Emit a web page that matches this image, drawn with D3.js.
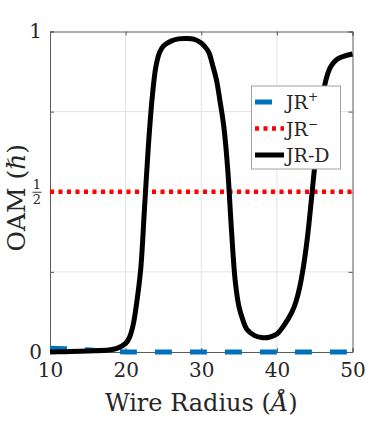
<!DOCTYPE html>
<html>
<head>
<meta charset="utf-8">
<script src="https://cdn.jsdelivr.net/npm/d3@7"></script>
<style>
  body { margin: 0; background: #fff; }
  svg text { font-family: "DejaVu Serif", "Liberation Serif", serif; fill: #262626; }
</style>
</head>
<body>
<div id="chart"></div>
<script>
// wire radius samples (Angstrom)
const radius = [10, 12, 14, 16, 18, 19, 20, 20.5, 21, 21.5, 22, 22.5, 23, 23.5, 24, 24.5, 25, 26, 27, 28, 29, 30,
  30.5, 31, 31.5, 32, 32.5, 33, 33.5, 34, 34.5, 35, 35.5, 36, 37, 38, 39, 40, 41, 42, 42.5, 43, 43.5, 44,
  44.5, 45, 45.5, 46, 46.5, 47, 47.5, 48, 49, 50];
// JR-D orbital angular momentum
const jrD = [0.0, 0.001, 0.002, 0.004, 0.007, 0.013, 0.027, 0.045, 0.085, 0.16, 0.26, 0.45, 0.64, 0.79, 0.89, 0.935, 0.955, 0.97, 0.977, 0.978, 0.976, 0.964,
  0.952, 0.935, 0.895, 0.85, 0.78, 0.7, 0.57, 0.38, 0.22, 0.14, 0.1, 0.072, 0.052, 0.045, 0.046, 0.056, 0.085, 0.125, 0.155, 0.2, 0.265, 0.35,
  0.46, 0.58, 0.7, 0.79, 0.85, 0.885, 0.903, 0.914, 0.924, 0.93];
// JR+ (decays to zero)
const jrPlusX = [10, 12, 14, 16, 18, 20, 30, 40, 50];
const jrPlus = [0.012, 0.01, 0.008, 0.005, 0.002, 0, 0, 0, 0];
// JR- constant
const jrMinusX = [10, 50];
const jrMinus = [0.5, 0.5];

const xTicks = [10, 20, 30, 40, 50];
const yTicks = [0, 0.25, 0.5, 0.75, 1];
const yLabels = { 0: '0', 1: '1' };

const legendItems = [
  { name: 'JR', sup: '+', color: '#0072BD', dash: '17,18', width: 5 },
  { name: 'JR', sup: '\u2212', color: '#FF0000', dash: '4,4.5', width: 4.5 },
  { name: 'JR-D', sup: '', color: '#000', dash: null, width: 5 }
];

const width = 390, height = 423;
const margin = { top: 31.5, right: 37.5, bottom: 71, left: 50 };
const serif = '"DejaVu Serif", "Liberation Serif", serif';

const svg = d3.select('#chart').append('svg')
  .attr('width', width)
  .attr('height', height);

const x = d3.scaleLinear().domain([10, 50]).range([margin.left, width - margin.right]);
const y = d3.scaleLinear().domain([0, 1]).range([height - margin.bottom, margin.top]);

// grid
svg.append('g').selectAll('line')
  .data(xTicks.slice(1, -1))
  .enter().append('line')
  .attr('x1', (d) => x(d)).attr('x2', (d) => x(d))
  .attr('y1', y(0)).attr('y2', y(1))
  .attr('stroke', '#e3e3e3').attr('stroke-width', 1);

svg.append('g').selectAll('line')
  .data(yTicks.slice(1, -1))
  .enter().append('line')
  .attr('x1', x(10)).attr('x2', x(50))
  .attr('y1', (d) => y(d)).attr('y2', (d) => y(d))
  .attr('stroke', '#e3e3e3').attr('stroke-width', 1);

// axes, ticks inward like matlab
const xAxis = d3.axisBottom(x).tickValues(xTicks).tickSize(-4).tickPadding(11).tickFormat(d3.format('d'));
const yAxis = d3.axisLeft(y).tickValues(yTicks).tickSize(-4).tickPadding(8)
  .tickFormat((d) => (yLabels[d] !== undefined ? yLabels[d] : ''));

svg.append('g').attr('transform', `translate(0,${y(0)})`).call(xAxis);
svg.append('g').attr('transform', `translate(${x(10)},0)`).call(yAxis);
svg.append('g').attr('transform', `translate(0,${y(1)})`)
  .call(d3.axisTop(x).tickValues(xTicks).tickSize(-4).tickFormat(''));
svg.append('g').attr('transform', `translate(${x(50)},0)`)
  .call(d3.axisRight(y).tickValues(yTicks).tickSize(-4).tickFormat(''));

svg.selectAll('.domain').attr('stroke', '#5a5a5a');
svg.selectAll('.tick line').attr('stroke', '#5a5a5a');
svg.selectAll('.tick text')
  .attr('font-family', serif)
  .style('font-family', serif)
  .style('font-size', '20px')
  .attr('fill', '#262626');

// the 1/2 label as a stacked fraction
const half = svg.append('g').attr('transform', `translate(${x(10) - 13},${y(0.5)})`);
half.append('text').attr('x', 0).attr('y', -3).attr('text-anchor', 'middle')
  .style('font-size', '13px').text('1');
half.append('line').attr('x1', -4.5).attr('x2', 4.5).attr('y1', 0.5).attr('y2', 0.5)
  .attr('stroke', '#262626').attr('stroke-width', 0.9);
half.append('text').attr('x', 0).attr('y', 12.5).attr('text-anchor', 'middle')
  .style('font-size', '13px').text('2');

// curves
const line = d3.line()
  .x((d) => x(d[0]))
  .y((d) => y(d[1]));

svg.append('path')
  .datum(jrMinusX.map((d, i) => [d, jrMinus[i]]))
  .attr('d', line)
  .attr('fill', 'none')
  .attr('stroke', '#FF0000')
  .attr('stroke-width', 4.5)
  .attr('stroke-dasharray', '4,4.5');

svg.append('path')
  .datum(jrPlusX.map((d, i) => [d, jrPlus[i]]))
  .attr('d', line.curve(d3.curveMonotoneX))
  .attr('fill', 'none')
  .attr('stroke', '#0072BD')
  .attr('stroke-width', 5)
  .attr('stroke-dasharray', '17,18');

svg.append('path')
  .datum(radius.map((d, i) => [d, jrD[i]]))
  .attr('d', line.curve(d3.curveCatmullRom.alpha(0.5)))
  .attr('fill', 'none')
  .attr('stroke', '#000')
  .attr('stroke-width', 5)
  .attr('stroke-linejoin', 'round');

// axis labels
svg.append('text')
  .attr('x', (x(10) + x(50)) / 2)
  .attr('y', 411)
  .attr('text-anchor', 'middle')
  .style('font-size', '24px')
  .html('Wire Radius (<tspan font-style="italic">Å</tspan>)');

svg.append('text')
  .attr('transform', `translate(25,${y(0.5) + 6}) rotate(-90)`)
  .attr('text-anchor', 'middle')
  .style('font-size', '25px')
  .html('OAM (<tspan font-style="italic">ℏ</tspan>)');

// legend
const legend = svg.append('g');
legend.append('rect')
  .attr('x', 251.5).attr('y', 86)
  .attr('width', 89).attr('height', 83)
  .attr('fill', '#fff')
  .attr('stroke', '#a0a0a0')
  .attr('stroke-width', 1);

const item = legend.selectAll('g')
  .data(legendItems)
  .enter().append('g')
  .attr('transform', (d, i) => `translate(0,${102 + i * 26.5})`);

item.append('line')
  .attr('x1', 255).attr('x2', 284)
  .attr('y1', 0).attr('y2', 0)
  .attr('stroke', (d) => d.color)
  .attr('stroke-width', (d) => d.width)
  .attr('stroke-dasharray', (d) => d.dash);

const label = item.append('text')
  .attr('x', 286)
  .attr('y', 7)
  .style('font-size', '19px');
label.append('tspan').text((d) => d.name);
label.append('tspan')
  .attr('dy', -8)
  .style('font-size', '12px')
  .text((d) => d.sup);
</script>
</body>
</html>
